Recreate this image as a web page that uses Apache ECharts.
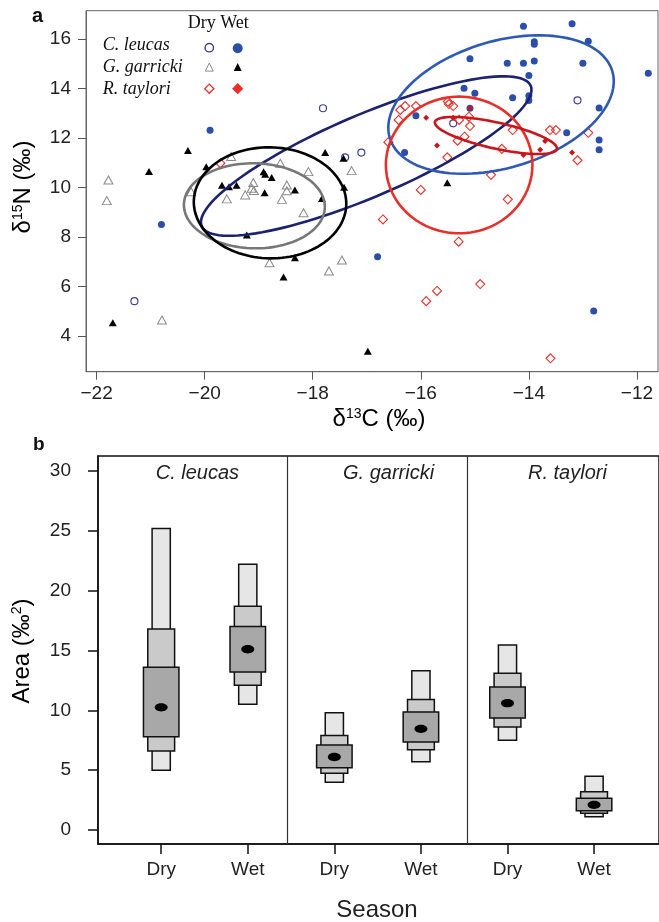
<!DOCTYPE html>
<html><head><meta charset="utf-8">
<script src="https://cdn.jsdelivr.net/npm/echarts@6/dist/echarts.min.js"></script>
<style>html,body{margin:0;padding:0;background:#fff}#c{width:659px;height:922px}</style>
</head><body><div id="c"></div>
<script>
// ---------- Panel a data: [d13C, d15N] ----------
const cleucasDry = [[-21.30,5.41],[-17.81,13.20],[-17.40,11.22],[-17.10,11.41],[-15.40,12.59],[-13.10,13.52]];
const cleucasWet = [[-20.80,8.51],[-19.90,12.31],[-16.80,7.20],[-16.30,11.41],[-16.09,12.90],[-15.20,14.01],[-15.09,15.20],[-15.09,13.20],[-15.00,13.81],[-14.40,15.02],[-14.30,13.62],[-14.10,16.51],[-14.10,15.02],[-14.00,14.52],[-14.00,13.70],[-14.00,13.51],[-13.90,15.89],[-13.90,15.79],[-13.90,15.11],[-13.30,12.21],[-13.20,16.61],[-13.00,15.02],[-12.90,15.91],[-12.80,5.01],[-12.70,13.21],[-12.70,11.92],[-12.70,11.52],[-11.79,14.61]];
const ggarrickiDry = [[-21.78,10.30],[-21.81,9.47],[-20.79,4.65],[-20.25,9.83],[-19.59,9.54],[-19.51,11.25],[-19.25,9.70],[-19.13,9.97],[-19.10,10.20],[-19.09,9.88],[-18.80,6.96],[-18.60,10.98],[-18.57,9.52],[-18.48,10.10],[-18.48,9.87],[-18.17,8.98],[-18.08,10.64],[-17.70,6.63],[-17.46,7.07],[-17.28,10.68]];
const ggarrickiWet = [[-21.70,4.54],[-21.03,10.65],[-20.31,11.49],[-19.97,10.84],[-19.68,10.09],[-19.55,10.03],[-19.41,10.09],[-19.22,8.08],[-18.91,10.64],[-18.88,10.53],[-18.76,10.40],[-18.89,9.79],[-18.54,6.38],[-18.33,9.90],[-18.33,7.16],[-17.83,9.56],[-17.77,11.41],[-17.43,11.18],[-17.42,10.01],[-16.98,3.39],[-15.51,10.19]];
const rtayloriDry = [[-19.71,10.98],[-16.70,8.71],[-16.60,11.83],[-16.41,12.73],[-16.38,13.13],[-16.29,13.29],[-16.09,13.29],[-16.00,9.90],[-15.90,5.41],[-15.70,5.82],[-15.51,11.22],[-15.50,13.47],[-15.48,13.37],[-15.40,13.29],[-15.32,11.89],[-15.30,7.81],[-15.29,12.73],[-15.19,12.05],[-15.11,12.86],[-15.09,12.48],[-14.90,6.10],[-14.70,10.51],[-14.50,11.56],[-14.39,9.52],[-14.30,12.32],[-13.61,12.32],[-13.60,3.10],[-13.50,12.32],[-13.10,11.10],[-12.90,12.21]];
const rtayloriWet = [[-15.90,12.82],[-15.40,12.82],[-15.09,13.20],[-15.70,11.70],[-14.10,11.31],[-13.79,11.52],[-13.70,11.88],[-13.20,11.41]];

// Standard ellipses: centre [x, y] and covariance [varX, varY, covXY] (data units)
const ellipseGroups = ['C. leucas Dry','C. leucas Wet','G. garricki Dry','G. garricki Wet','R. taylori Dry','R. taylori Wet'];
const ellipseCentres = [[-17.01,11.27],[-14.515,13.35],[-19.08,9.26],[-18.79,9.38],[-15.29,10.91],[-14.61,12.10]];
const ellipseCov = [[9.358,10.37,8.181],[4.352,7.818,1.956],[1.700,2.949,-0.05],[1.991,5.028,-0.05],[1.838,7.616,0.0],[1.276,0.5616,-0.589]];

const xTicksA = [-22,-20,-18,-16,-14,-12];
const yTicksA = [4,6,8,10,12,14,16];

// ---------- Panel b data: SIBER area credible intervals ----------
const seasons = ['Dry','Wet','Dry','Wet','Dry','Wet'];
const speciesB = ['C. leucas','G. garricki','R. taylori'];
const ci95lo = [5.0,10.5,4.0,5.7,7.5,1.1];
const ci95hi = [25.2,22.2,9.8,13.3,15.45,4.5];
const ci75lo = [6.6,12.1,4.75,6.7,8.6,1.4];
const ci75hi = [16.8,18.7,7.9,10.9,13.1,3.2];
const ci50lo = [7.8,13.2,5.2,7.35,9.35,1.6];
const ci50hi = [13.6,17.0,7.1,9.85,11.95,2.65];
const modes = [10.25,15.1,6.1,8.45,10.6,2.1];
const yTicksB = [0,5,10,15,20,25,30];

// ---------- styles ----------
const ellColors = ['#1c2270','#2f5ab4','#777777','#000000','#e8302a','#c8161d'];
const sans = 'Liberation Sans, Arial, sans-serif';
const serif = 'Liberation Serif, Times New Roman, serif';
const minus = v => String(v).replace('-', '\u2212');

const chart = echarts.init(document.getElementById('c'), null, {renderer:'canvas'});

const ellData = ellipseCentres.map((c,i)=>[c[0],c[1],ellipseCov[i][0],ellipseCov[i][1],ellipseCov[i][2],i]);
const boxData = seasons.map((s,i)=>[i+1,ci95lo[i],ci95hi[i],ci75lo[i],ci75hi[i],ci50lo[i],ci50hi[i],modes[i]]);

function sc(name,data,symbol,size,fill,stroke,bw){
  return {name,type:'scatter',xAxisIndex:0,yAxisIndex:0,data,symbol,symbolSize:size,z:3,
    itemStyle:{color:fill,borderColor:stroke,borderWidth:bw,opacity:1},emphasis:{disabled:true},silent:true};
}

const tri = (cx,cy,s,fill,stroke)=>({type:'polygon',shape:{points:[[cx,cy-s*0.55],[cx+s/2,cy+s*0.45],[cx-s/2,cy+s*0.45]]},style:{fill,stroke,lineWidth:1}});
const dia = (cx,cy,h,fill,stroke)=>({type:'polygon',shape:{points:[[cx,cy-h],[cx+h,cy],[cx,cy+h],[cx-h,cy]]},style:{fill,stroke,lineWidth:1.3}});

const option = {
  animation:false,
  grid:[
    {left:86,top:10.7,width:572,height:361,show:true,borderColor:'#666',borderWidth:1,backgroundColor:'transparent'},
    {left:98,top:456,width:575.6,height:388,show:true,borderColor:'#111',borderWidth:1.5,backgroundColor:'transparent'}
  ],
  xAxis:[
    {gridIndex:0,type:'value',min:-22.196,max:-11.61,
      axisLine:{show:true,onZero:false,lineStyle:{color:'#666',width:1}},
      axisTick:{show:true,length:8,customValues:xTicksA,lineStyle:{color:'#555',width:1}},
      axisLabel:{customValues:xTicksA,formatter:v=>minus(v),fontFamily:sans,fontSize:19,color:'#222',margin:13},
      splitLine:{show:false}},
    {gridIndex:1,type:'value',min:0.27,max:6.75,
      axisLine:{show:true,onZero:false,lineStyle:{color:'#111',width:1.5}},
      axisTick:{show:true,length:10,customValues:[1,2,3,4,5,6],lineStyle:{color:'#111',width:1.5}},
      axisLabel:{customValues:[1,2,3,4,5,6],formatter:v=>seasons[Math.round(v)-1],fontFamily:sans,fontSize:19,color:'#222',margin:16},
      splitLine:{show:false}}
  ],
  yAxis:[
    {gridIndex:0,type:'value',min:2.56,max:17.14,
      axisLine:{show:true,onZero:false,lineStyle:{color:'#666',width:1}},
      axisTick:{show:true,length:8,customValues:yTicksA,lineStyle:{color:'#555',width:1}},
      axisLabel:{customValues:yTicksA,fontFamily:sans,fontSize:19,color:'#222',margin:15},
      splitLine:{show:false}},
    {gridIndex:1,type:'value',min:-1.17,max:31.25,
      axisLine:{show:true,onZero:false,lineStyle:{color:'#111',width:1.5}},
      axisTick:{show:true,length:10,customValues:yTicksB,lineStyle:{color:'#111',width:1.5}},
      axisLabel:{customValues:yTicksB,fontFamily:sans,fontSize:19,color:'#222',margin:27},
      splitLine:{show:false}}
  ],
  series:[
    sc('C. leucas Dry',cleucasDry,'circle',7,'rgba(0,0,0,0)','#40409a',1.2),
    sc('G. garricki Dry',ggarrickiDry,'triangle',[9,8],'rgba(0,0,0,0)','#8a8a8a',1),
    sc('R. taylori Dry',rtayloriDry,'diamond',9,'rgba(0,0,0,0)','#e8302a',1.1),
    sc('C. leucas Wet',cleucasWet,'circle',7,'#2b4fa8','#2b4fa8',0),
    sc('G. garricki Wet',ggarrickiWet,'triangle',[8,7],'#000','#000',0),
    sc('R. taylori Wet',rtayloriWet,'diamond',6,'#c8161d','#c8161d',0),
    {type:'custom',name:'ellipses',xAxisIndex:0,yAxisIndex:0,data:ellData,z:4,silent:true,
      encode:{x:0,y:1},
      renderItem:(params,api)=>{
        const cx=api.value(0),cy=api.value(1),sxx=api.value(2),syy=api.value(3),sxy=api.value(4),ci=api.value(5);
        const l11=Math.sqrt(sxx),l21=sxy/l11,l22=Math.sqrt(syy-l21*l21);
        const pts=[];
        for(let k=0;k<120;k++){const t=k/120*2*Math.PI;pts.push(api.coord([cx+l11*Math.cos(t),cy+l21*Math.cos(t)+l22*Math.sin(t)]));}
        return {type:'polygon',shape:{points:pts},style:{fill:'none',stroke:ellColors[ci],lineWidth:2.6}};
      }},
    {type:'custom',name:'areas',xAxisIndex:1,yAxisIndex:1,data:boxData,z:3,silent:true,
      encode:{x:0,y:[1,2]},
      renderItem:(params,api)=>{
        const x=api.value(0);
        const rect=(lo,hi,w,fill)=>{const p1=api.coord([x,hi]),p0=api.coord([x,lo]);const pw=api.size([w,0])[0];
          return {type:'rect',shape:{x:p1[0]-pw/2,y:p1[1],width:pw,height:p0[1]-p1[1]},style:{fill,stroke:'#111',lineWidth:1.5}};};
        const m=api.coord([x,api.value(7)]);
        return {type:'group',children:[
          rect(api.value(1),api.value(2),0.21,'#e6e6e6'),
          rect(api.value(3),api.value(4),0.31,'#cacaca'),
          rect(api.value(5),api.value(6),0.41,'#a8a8a8'),
          {type:'ellipse',shape:{cx:m[0],cy:m[1],rx:6.5,ry:4.2},style:{fill:'#000'}}
        ]};
      },
      markLine:{silent:true,symbol:'none',label:{show:false},lineStyle:{color:'#333',width:1.2,type:'solid'},
        data:[{xAxis:2.465},{xAxis:4.535}]}}
  ],
  graphic:[
    {type:'text',left:32,top:6,style:{text:'a',font:'bold 20px '+sans,fill:'#111'}},
    {type:'text',left:33,top:435,style:{text:'b',font:'bold 19px '+sans,fill:'#111'}},
    // legend
    {type:'text',x:187.7,y:23,style:{text:'Dry Wet',font:'18px '+serif,fill:'#111',verticalAlign:'middle'}},
    {type:'text',x:102.7,y:45,style:{text:'C. leucas',font:'italic 18px '+serif,fill:'#111',verticalAlign:'middle'}},
    {type:'text',x:102.7,y:67,style:{text:'G. garricki',font:'italic 18px '+serif,fill:'#111',verticalAlign:'middle'}},
    {type:'text',x:102.7,y:89,style:{text:'R. taylori',font:'italic 18px '+serif,fill:'#111',verticalAlign:'middle'}},
    {type:'circle',shape:{cx:209.3,cy:47.7,r:4.2},style:{fill:'none',stroke:'#40409a',lineWidth:1.4}},
    {type:'circle',shape:{cx:237.7,cy:48.3,r:5},style:{fill:'#2b4fa8'}},
    tri(209.3,67.5,8,'none','#8a8a8a'),
    tri(237.7,67.5,8,'#000',null),
    dia(209.3,88.7,4.6,'none','#e8302a'),
    dia(237.7,88.7,5.6,'#e8302a',null),
    // axis titles
    {type:'text',x:379,y:419,style:{text:'{a|δ}{s|13}{a|C (‰)}',align:'center',verticalAlign:'middle',
      rich:{a:{fontFamily:sans,fontSize:24,color:'#222'},s:{fontFamily:sans,fontSize:14,verticalAlign:'top',color:'#222'}}}},
    {type:'text',x:23,y:187,rotation:Math.PI/2,style:{text:'{a|δ}{s|15}{a|N (‰)}',align:'center',verticalAlign:'middle',
      rich:{a:{fontFamily:sans,fontSize:24,color:'#222'},s:{fontFamily:sans,fontSize:14,verticalAlign:'top',color:'#222'}}}},
    {type:'text',x:22,y:651,rotation:Math.PI/2,style:{text:'{a|Area (‰}{s|2}{a|)}',align:'center',verticalAlign:'middle',
      rich:{a:{fontFamily:sans,fontSize:24,color:'#222'},s:{fontFamily:sans,fontSize:14,verticalAlign:'top',color:'#222'}}}},
    {type:'text',x:377,y:910,style:{text:'Season',font:'24px '+sans,fill:'#222',align:'center',verticalAlign:'middle'}},
    // panel b species headers
    {type:'text',x:155.7,y:473,style:{text:speciesB[0],font:'italic 20px '+sans,fill:'#222',verticalAlign:'middle'}},
    {type:'text',x:343,y:473,style:{text:speciesB[1],font:'italic 20px '+sans,fill:'#222',verticalAlign:'middle'}},
    {type:'text',x:528,y:473,style:{text:speciesB[2],font:'italic 20px '+sans,fill:'#222',verticalAlign:'middle'}}
  ]
};
chart.setOption(option);
</script></body></html>
